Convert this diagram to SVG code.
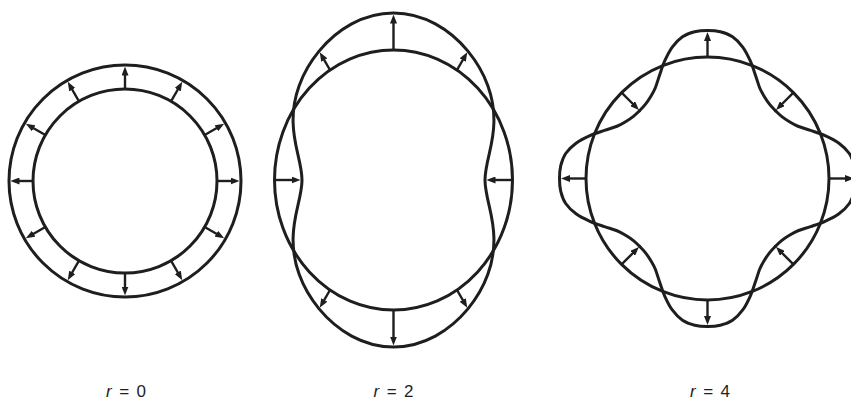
<svg xmlns="http://www.w3.org/2000/svg" width="851" height="400" viewBox="0 0 851 400">
<style>
.curve{fill:none;stroke:#1e1e1e;stroke-width:3;stroke-linecap:round}
.shaft{fill:none;stroke:#1e1e1e;stroke-width:2.4;marker-end:url(#head)}
.lbl{font-family:"Liberation Sans",Arial,sans-serif;font-size:17px;fill:#1e1e1e}
</style>
<defs>
<marker id="head" markerUnits="userSpaceOnUse" markerWidth="9" markerHeight="7" refX="4.5" refY="3.5" orient="auto" viewBox="0 0 9 7">
<path d="M0,0 L9,3.5 L0,7 Z" fill="#1e1e1e"/>
</marker>
<path id="lobe4" class="curve" d="M 67.88,-67.88 C 69.86,-65.91 71.83,-63.94 74.08,-62.16 C 76.34,-60.38 78.79,-58.70 81.51,-57.07 C 84.24,-55.45 86.93,-53.70 90.50,-52.25 C 94.07,-50.80 98.54,-49.60 103.05,-48.05 C 107.56,-46.50 112.80,-44.93 117.55,-42.79 C 122.30,-40.65 127.39,-38.24 131.46,-35.23 C 135.53,-32.22 139.24,-28.81 141.81,-25.01 C 144.38,-21.21 145.70,-17.05 146.74,-12.84 C 147.78,-8.63 148,-4.31 148,0 C 148,4.31 147.78,8.63 146.74,12.84 C 145.70,17.05 144.38,21.21 141.81,25.01 C 139.24,28.81 135.53,32.22 131.46,35.23 C 127.39,38.24 122.30,40.65 117.55,42.79 C 112.80,44.93 107.56,46.50 103.05,48.05 C 98.54,49.60 94.07,50.80 90.50,52.25 C 86.93,53.70 84.24,55.45 81.51,57.07 C 78.79,58.70 76.34,60.38 74.08,62.16 C 71.83,63.94 69.86,65.91 67.88,67.88"/>
</defs>
<rect width="851" height="400" fill="#ffffff"/>

<g id="mode-r0" transform="translate(125,181)">
<circle class="curve" r="92"/>
<circle class="curve" r="116"/>
<g id="arrows-r0">
<line class="shaft" x1="92" y1="0" x2="110" y2="0" transform="rotate(0)"/>
<line class="shaft" x1="92" y1="0" x2="110" y2="0" transform="rotate(30)"/>
<line class="shaft" x1="92" y1="0" x2="110" y2="0" transform="rotate(60)"/>
<line class="shaft" x1="92" y1="0" x2="110" y2="0" transform="rotate(90)"/>
<line class="shaft" x1="92" y1="0" x2="110" y2="0" transform="rotate(120)"/>
<line class="shaft" x1="92" y1="0" x2="110" y2="0" transform="rotate(150)"/>
<line class="shaft" x1="92" y1="0" x2="110" y2="0" transform="rotate(180)"/>
<line class="shaft" x1="92" y1="0" x2="110" y2="0" transform="rotate(210)"/>
<line class="shaft" x1="92" y1="0" x2="110" y2="0" transform="rotate(240)"/>
<line class="shaft" x1="92" y1="0" x2="110" y2="0" transform="rotate(270)"/>
<line class="shaft" x1="92" y1="0" x2="110" y2="0" transform="rotate(300)"/>
<line class="shaft" x1="92" y1="0" x2="110" y2="0" transform="rotate(330)"/>
</g>
</g>

<g id="mode-r2" transform="translate(393.5,180)">
<ellipse class="curve" rx="119" ry="130"/>
<path class="curve" d="M 91.5,0 C 91.5,7.99 93.40,16.08 95.64,25.63 C 97.88,35.18 100.20,46.17 100.42,57.98 C 100.64,69.79 98.73,82.26 94.35,94.35 C 89.97,106.44 83.24,118.21 74.41,128.88 C 65.58,139.55 54.57,149.17 41.82,156.08 C 29.07,162.99 14.57,167 0,167 C -14.57,167 -29.07,162.99 -41.82,156.08 C -54.57,149.17 -65.58,139.55 -74.41,128.88 C -83.24,118.21 -89.97,106.44 -94.35,94.35 C -98.73,82.26 -100.64,69.79 -100.42,57.98 C -100.20,46.17 -97.88,35.18 -95.64,25.63 C -93.40,16.08 -91.5,7.99 -91.5,0 C -91.5,-7.99 -93.40,-16.08 -95.64,-25.63 C -97.88,-35.18 -100.20,-46.17 -100.42,-57.98 C -100.64,-69.79 -98.73,-82.26 -94.35,-94.35 C -89.97,-106.44 -83.24,-118.21 -74.41,-128.88 C -65.58,-139.55 -54.57,-149.17 -41.82,-156.08 C -29.07,-162.99 -14.57,-167 0,-167 C 14.57,-167 29.07,-162.99 41.82,-156.08 C 54.57,-149.17 65.58,-139.55 74.41,-128.88 C 83.24,-118.21 89.97,-106.44 94.35,-94.35 C 98.73,-82.26 100.64,-69.79 100.42,-57.98 C 100.20,-46.17 97.88,-35.18 95.64,-25.63 C 93.40,-16.08 91.5,-7.99 91.5,0 Z"/>
<g id="arrows-r2">
<line class="shaft" x1="119" y1="0" x2="97.5" y2="0" transform="rotate(0)"/>
<line class="shaft" x1="119" y1="0" x2="97.5" y2="0" transform="rotate(180)"/>
<line class="shaft" x1="130" y1="0" x2="161" y2="0" transform="rotate(-90)"/>
<line class="shaft" x1="130" y1="0" x2="161" y2="0" transform="rotate(90)"/>
<line class="shaft" x1="127" y1="0" x2="143" y2="0" transform="rotate(-60)"/>
<line class="shaft" x1="127" y1="0" x2="143" y2="0" transform="rotate(-120)"/>
<line class="shaft" x1="127" y1="0" x2="143" y2="0" transform="rotate(60)"/>
<line class="shaft" x1="127" y1="0" x2="143" y2="0" transform="rotate(120)"/>
</g>
</g>

<g id="mode-r4" transform="translate(707.5,178.5)">
<circle class="curve" r="121.5"/>
<use href="#lobe4" transform="rotate(0)"/>
<use href="#lobe4" transform="rotate(90)"/>
<use href="#lobe4" transform="rotate(180)"/>
<use href="#lobe4" transform="rotate(270)"/>
<g id="arrows-r4">
<line class="shaft" x1="121.5" y1="0" x2="142" y2="0" transform="rotate(0)"/>
<line class="shaft" x1="121.5" y1="0" x2="142" y2="0" transform="rotate(90)"/>
<line class="shaft" x1="121.5" y1="0" x2="142" y2="0" transform="rotate(180)"/>
<line class="shaft" x1="121.5" y1="0" x2="142" y2="0" transform="rotate(270)"/>
<line class="shaft" x1="121.5" y1="0" x2="101.5" y2="0" transform="rotate(45)"/>
<line class="shaft" x1="121.5" y1="0" x2="101.5" y2="0" transform="rotate(135)"/>
<line class="shaft" x1="121.5" y1="0" x2="101.5" y2="0" transform="rotate(225)"/>
<line class="shaft" x1="121.5" y1="0" x2="101.5" y2="0" transform="rotate(315)"/>
</g>
</g>

<g id="labels">
<text class="lbl" x="106" y="397" textLength="40" lengthAdjust="spacing" xml:space="preserve"><tspan font-style="italic">r</tspan> = 0</text>
<text class="lbl" x="373.5" y="397" textLength="40" lengthAdjust="spacing" xml:space="preserve"><tspan font-style="italic">r</tspan> = 2</text>
<text class="lbl" x="690" y="397" textLength="40" lengthAdjust="spacing" xml:space="preserve"><tspan font-style="italic">r</tspan> = 4</text>
</g>
</svg>
